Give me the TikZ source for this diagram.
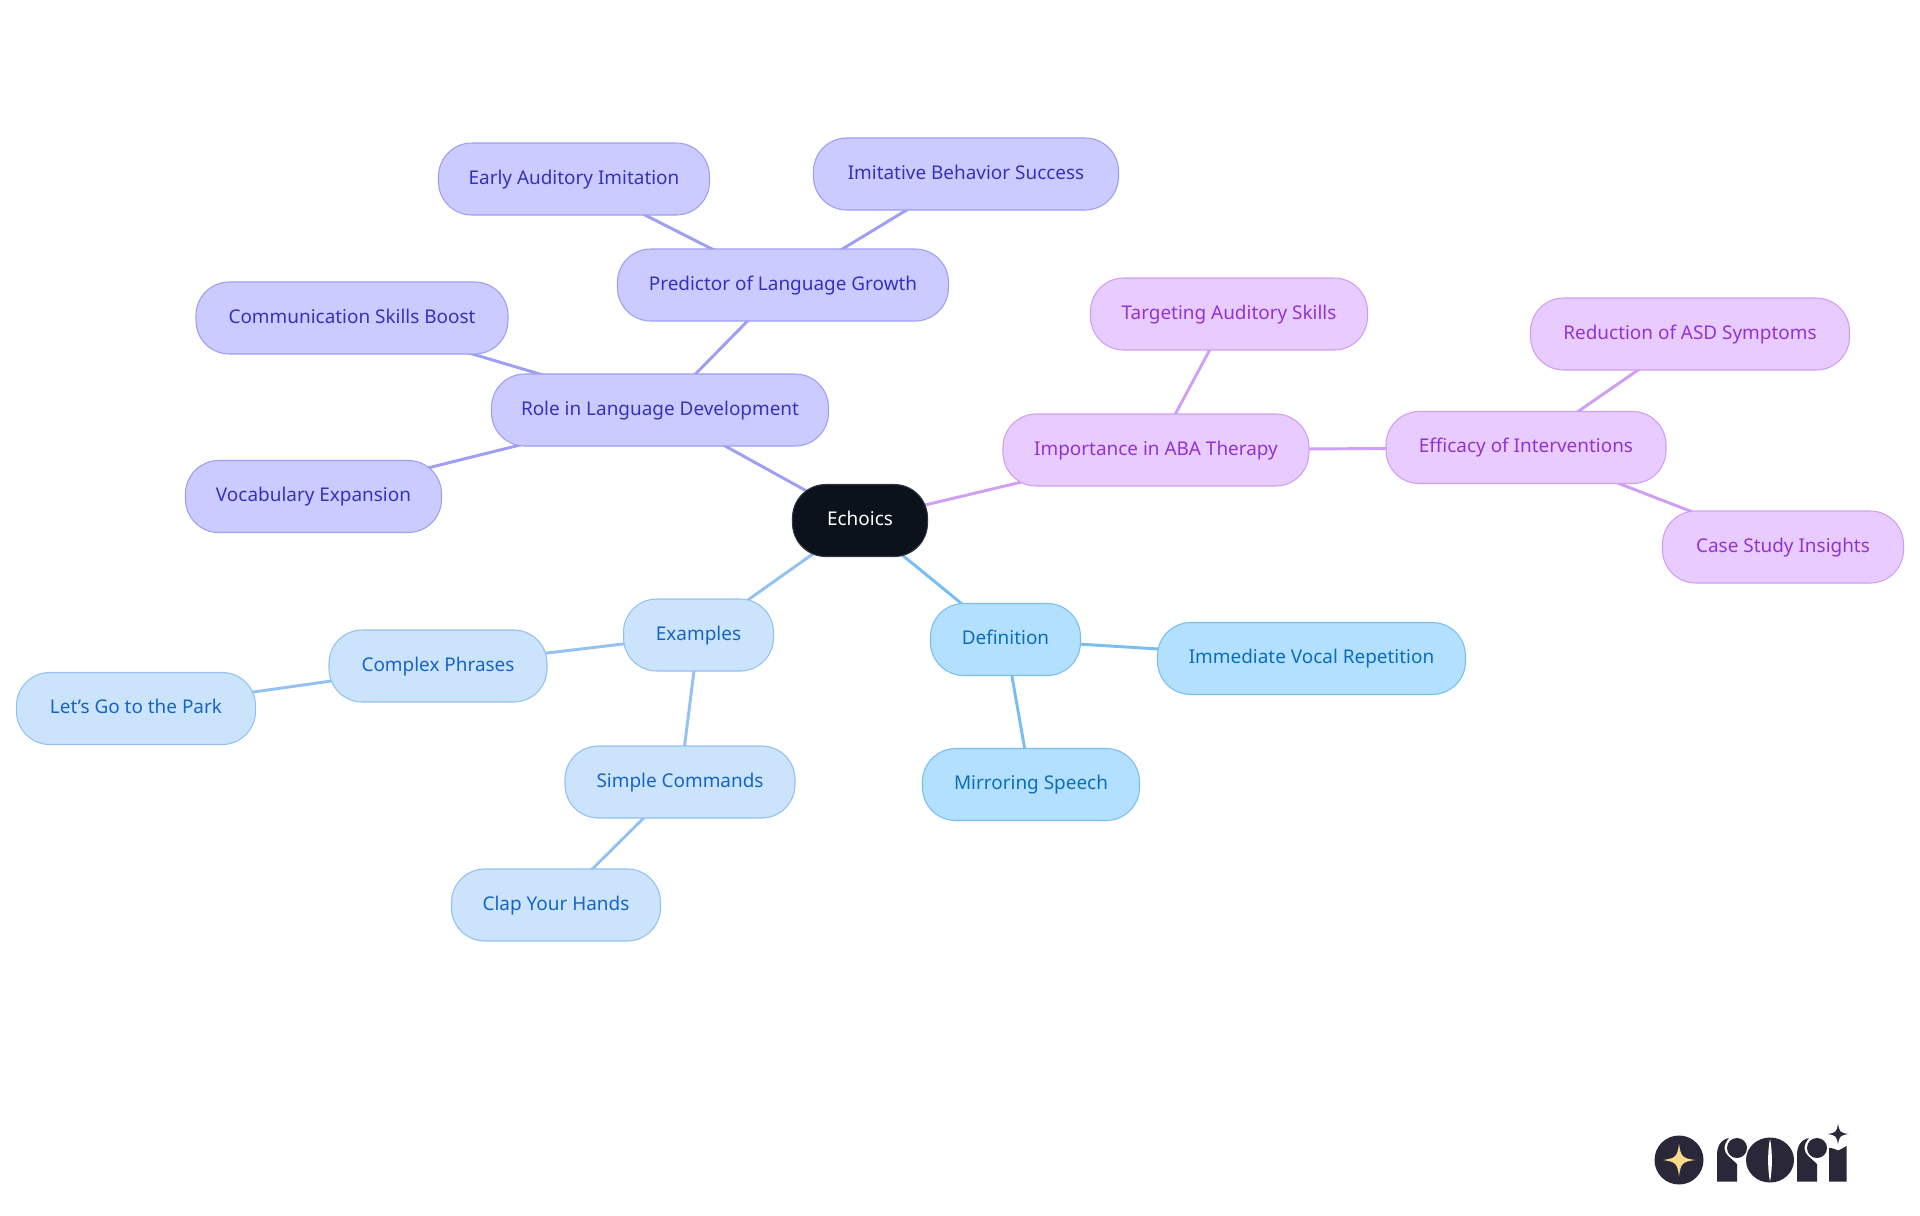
\documentclass[tikz,border=0pt]{standalone}
\usepackage{fontspec}
\setmainfont{Noto Sans}
\usetikzlibrary{backgrounds}
\definecolor{rootfill}{HTML}{0B121B}
\definecolor{deffill}{HTML}{B3E0FF}\definecolor{defline}{HTML}{79BEF0}\definecolor{deftext}{HTML}{0B6DBE}
\definecolor{exfill}{HTML}{CCE3FC}\definecolor{exline}{HTML}{93C1F2}\definecolor{extext}{HTML}{1565C8}
\definecolor{rolefill}{HTML}{CBCBFF}\definecolor{roleline}{HTML}{9E9EF5}\definecolor{roletext}{HTML}{3333BB}
\definecolor{abafill}{HTML}{E8CBFF}\definecolor{abaline}{HTML}{CF9FF5}\definecolor{abatext}{HTML}{9333D0}
\definecolor{logodark}{HTML}{2A2838}\definecolor{logostar}{HTML}{FAD98A}
\tikzset{
 wd/.style={minimum width=#1*0.75pt},
 mm/.style={rectangle,rounded corners=25pt,minimum height=54pt,inner sep=0pt,line width=0.8pt,text height=10pt,text depth=1.8pt,font=\fontsize{14.2}{17}\selectfont},
 rootbox/.style={mm,fill=rootfill,draw=rootfill!85!white,text=white},
 defbox/.style={mm,fill=deffill,draw=defline,text=deftext},
 exbox/.style={mm,fill=exfill,draw=exline,text=extext},
 rolebox/.style={mm,fill=rolefill,draw=roleline,text=roletext},
 ababox/.style={mm,fill=abafill,draw=abaline,text=abatext},
 link/.style={line width=2.2pt},
}
\newcommand{\logostarshape}[3]{% cx cy r
 (#1-#3,#2) .. controls (#1-0.2*#3,#2-0.12*#3) and (#1-0.12*#3,#2-0.2*#3) .. (#1,#2-#3)
 .. controls (#1+0.12*#3,#2-0.2*#3) and (#1+0.2*#3,#2-0.12*#3) .. (#1+#3,#2)
 .. controls (#1+0.2*#3,#2+0.12*#3) and (#1+0.12*#3,#2+0.2*#3) .. (#1,#2+#3)
 .. controls (#1-0.12*#3,#2+0.2*#3) and (#1-0.2*#3,#2+0.12*#3) .. (#1-#3,#2) -- cycle}
\begin{document}
\begin{tikzpicture}[x=0.75pt,y=-0.75pt]
\useasboundingbox (0,0) rectangle (1920,1215);
\node[rootbox,wd=135] (root) at (860,520.5) {Echoics};
\node[defbox,wd=150] (def) at (1005.5,639.5) {Definition};
\node[defbox,wd=308] (imm) at (1311.5,658.5) {Immediate Vocal Repetition};
\node[defbox,wd=217] (mir) at (1031,784.5) {Mirroring Speech};
\node[exbox,wd=150] (ex) at (698.5,635) {Examples};
\node[exbox,wd=218] (cpx) at (438,666) {Complex Phrases};
\node[exbox,wd=239] (park) at (136,708.5) {Let's Go to the Park};
\node[exbox,wd=230] (sim) at (680,782) {Simple Commands};
\node[exbox,wd=209] (clap) at (556,905) {Clap Your Hands};
\node[ababox,wd=306] (aba) at (1156,450) {Importance in ABA Therapy};
\node[ababox,wd=277] (tar) at (1229,314) {Targeting Auditory Skills};
\node[ababox,wd=280] (eff) at (1526,447.5) {Efficacy of Interventions};
\node[ababox,wd=319] (red) at (1690,334) {Reduction of ASD Symptoms};
\node[ababox,wd=241] (cas) at (1783,547) {Case Study Insights};
\node[rolebox,wd=337] (role) at (660,410) {Role in Language Development};
\node[rolebox,wd=331] (pre) at (783,285) {Predictor of Language Growth};
\node[rolebox,wd=271] (ear) at (574,179) {Early Auditory Imitation};
\node[rolebox,wd=305] (imi) at (966,174) {Imitative Behavior Success};
\node[rolebox,wd=312] (com) at (352,318) {Communication Skills Boost};
\node[rolebox,wd=256] (voc) at (313.5,496.5) {Vocabulary Expansion};
\begin{scope}[on background layer]
\fill[white] (0,0) rectangle (1920,1215);
\draw[link,defline] (root.center)--(def.center) (def.center)--(imm.center) (def.center)--(mir.center);
\draw[link,exline] (root.center)--(ex.center) (ex.center)--(cpx.center) (cpx.center)--(park.center) (ex.center)--(sim.center) (sim.center)--(clap.center);
\draw[link,abaline] (root.center)--(aba.center) (aba.center)--(tar.center) (aba.center)--(eff.center) (eff.center)--(red.center) (eff.center)--(cas.center);
\draw[link,roleline] (root.center)--(role.center) (role.center)--(pre.center) (pre.center)--(ear.center) (pre.center)--(imi.center) (role.center)--(com.center) (role.center)--(voc.center);
\end{scope}
% logo
\fill[logodark] (1679,1160) circle [radius=24.5];
\fill[logostar] \logostarshape{1679}{1160}{16};
\foreach \dx in {0,80}{
 \fill[logodark] ({1717+\dx},1181.5) -- ({1717+\dx},1155)
   .. controls ({1717+\dx},1147) and ({1720+\dx},1140) .. ({1729+\dx},1138)
   .. controls ({1725.5+\dx},1142) and ({1724+\dx},1146) .. ({1724.5+\dx},1149)
   .. controls ({1725+\dx},1155) and ({1731+\dx},1158) .. ({1737+\dx},1164)
   -- ({1737+\dx},1181.5) -- cycle;
 \fill[logodark] ({1737+\dx},1148) circle [radius=10];
}
\fill[logodark] (1770,1160) ellipse [x radius=24, y radius=22.5];
\fill[white] (1770,1139) .. controls (1767.5,1150) and (1767.5,1170) .. (1770,1181.5)
   .. controls (1772.5,1170) and (1772.5,1150) .. (1770,1139) -- cycle;
\fill[logodark] (1829,1181.5) -- (1829,1148) .. controls (1833,1148) and (1835,1149) .. (1838,1150.5)
   .. controls (1841,1149) and (1844,1148) .. (1846.5,1146) -- (1846.5,1181.5) -- cycle;
\fill[logodark] \logostarshape{1838}{1134}{10.5};
\end{tikzpicture}
\end{document}
